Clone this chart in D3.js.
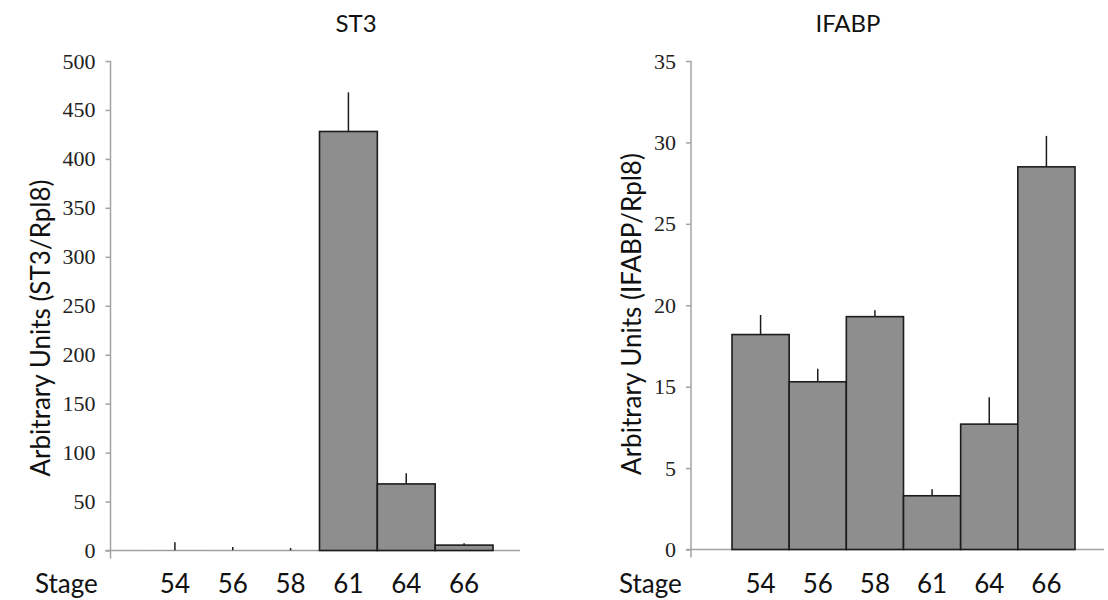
<!DOCTYPE html>
<html>
<head>
<meta charset="utf-8">
<script src="https://cdn.jsdelivr.net/npm/d3@7"></script>
<style>
  body { margin: 0; background: #fff; }
  .sans { font-family: Lato, "Open Sans", sans-serif; fill: #111; }
</style>
</head>
<body>
<div id="chart"></div>
<script>
// data
var stages = ["54", "56", "58", "61", "64", "66"];

var st3Values = [0.3, 0.2, 0.2, 428, 68, 5.5];
var st3ErrTop = [8.5, 3.5, 2.5, 468, 79, 7.5];
var st3Ticks = [0, 50, 100, 150, 200, 250, 300, 350, 400, 450, 500];

var ifabpValues = [18.2, 15.3, 19.3, 3.3, 10.4, 28.5];
var ifabpErrTop = [19.4, 16.1, 19.7, 3.7, 13.7, 30.4];
// the original axis skips 10, ticks are evenly spaced anyway
var ifabpTicks = [0, 5, 15, 20, 25, 30, 35];

var width = 1108, height = 600;

var svg = d3.select("#chart").append("svg")
    .attr("width", width)
    .attr("height", height);

function drawChart(cfg) {
    var top = 61,
        base = cfg.base,
        n = cfg.ticks.length;

    var y = d3.scaleLinear()
        .domain(cfg.ticks)
        .range(cfg.ticks.map(function (d, i) { return base - i * (base - top) / (n - 1); }));

    var x = d3.scaleBand()
        .domain(stages)
        .range(cfg.band)
        .padding(0);

    var g = svg.append("g");

    // y axis ticks and labels
    var yAxis = d3.axisLeft(y)
        .tickValues(cfg.ticks)
        .tickSize(5)
        .tickSizeOuter(0)
        .tickPadding(10);

    var ga = g.append("g")
        .attr("transform", "translate(" + cfg.axisX + ",0)")
        .call(yAxis);
    ga.select(".domain").remove();
    ga.selectAll(".tick line").attr("stroke", "#a3a3a3").attr("stroke-width", 1.5);
    ga.selectAll(".tick text")
        .style("font-family", "'Liberation Serif', 'DejaVu Serif', serif")
        .style("font-size", "22px")
        .attr("fill", "#222");

    // axis lines
    g.append("line")
        .attr("x1", cfg.axisX).attr("x2", cfg.axisX)
        .attr("y1", top).attr("y2", base + 8)
        .attr("stroke", "#a3a3a3").attr("stroke-width", 1.5);
    g.append("line")
        .attr("x1", cfg.axisX - 5).attr("x2", cfg.axisEnd)
        .attr("y1", base).attr("y2", base)
        .attr("stroke", "#a3a3a3").attr("stroke-width", 1.5);

    var rows = stages.map(function (s, i) {
        return { stage: s, v: cfg.values[i], e: cfg.err[i] };
    });

    // bars
    g.append("g").selectAll("rect")
        .data(rows)
        .join("rect")
        .attr("x", function (d) { return x(d.stage); })
        .attr("width", x.bandwidth())
        .attr("y", function (d) { return y(d.v); })
        .attr("height", function (d) { return y(0) - y(d.v); })
        .attr("fill", "#8e8e8e")
        .attr("stroke", function (d) { return y(0) - y(d.v) < 1 ? "none" : "#1c1c1c"; })
        .attr("stroke-width", 1.6);

    // upper error bars
    g.append("g").selectAll("line")
        .data(rows)
        .join("line")
        .attr("x1", function (d) { return x(d.stage) + x.bandwidth() / 2; })
        .attr("x2", function (d) { return x(d.stage) + x.bandwidth() / 2; })
        .attr("y1", function (d) { return y(d.v); })
        .attr("y2", function (d) { return y(d.e); })
        .attr("stroke", "#1c1c1c")
        .attr("stroke-width", 1.5);

    // x labels
    g.append("g").selectAll("text")
        .data(stages)
        .join("text")
        .attr("class", "sans")
        .attr("x", function (d) { return x(d) + x.bandwidth() / 2; })
        .attr("y", 593)
        .attr("text-anchor", "middle")
        .style("font-size", "26px")
        .text(function (d) { return d; });

    g.append("text")
        .attr("class", "sans")
        .attr("x", cfg.stageX)
        .attr("y", 593)
        .style("font-size", "26px")
        .text("Stage");

    // chart title
    g.append("text")
        .attr("class", "sans")
        .attr("x", cfg.titleX)
        .attr("y", 32)
        .attr("text-anchor", "middle")
        .style("font-size", "24px")
        .text(cfg.title);

    // y title
    g.append("text")
        .attr("class", "sans")
        .attr("transform", "translate(" + cfg.yTitleX + "," + cfg.yTitleY + ") rotate(-90)")
        .attr("text-anchor", "middle")
        .style("font-size", "26px")
        .text(cfg.yTitle);
}

drawChart({
    title: "ST3", titleX: 356,
    yTitle: "Arbitrary Units (ST3/Rpl8)", yTitleX: 50, yTitleY: 328,
    values: st3Values, err: st3ErrTop, ticks: st3Ticks,
    axisX: 110.5, axisEnd: 520, base: 550.5, band: [146, 493], stageX: 35
});

drawChart({
    title: "IFABP", titleX: 848,
    yTitle: "Arbitrary Units (IFABP/Rpl8)", yTitleX: 641, yTitleY: 314,
    values: ifabpValues, err: ifabpErrTop, ticks: ifabpTicks,
    axisX: 691, axisEnd: 1104, base: 549.5, band: [732, 1075], stageX: 619
});
</script>
</body>
</html>
